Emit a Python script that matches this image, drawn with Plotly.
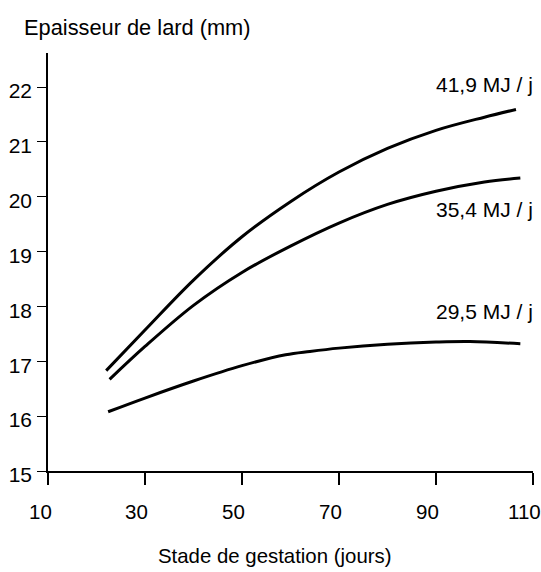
import plotly.graph_objects as go

# Data
days_41_9 = [22, 30, 40, 50, 60, 70, 80, 90, 100, 106.5]
lard_41_9 = [16.83, 17.57, 18.48, 19.27, 19.91, 20.45, 20.88, 21.21, 21.45, 21.59]

days_35_4 = [22.7, 30, 40, 50, 60, 70, 80, 90, 100, 107.4]
lard_35_4 = [16.67, 17.27, 18.02, 18.62, 19.10, 19.52, 19.86, 20.10, 20.27, 20.34]

days_29_5 = [22.4, 30, 40, 50, 59, 64, 70, 80, 90, 97, 107.4]
lard_29_5 = [16.08, 16.33, 16.64, 16.92, 17.12, 17.18, 17.24, 17.31, 17.35, 17.36, 17.32]

series_labels = ["41,9 MJ / j", "35,4 MJ / j", "29,5 MJ / j"]
label_y = [22.04, 19.76, 17.90]

x_ticks = [10, 30, 50, 70, 90, 110]
x_ticktext = ["10", "30", "50", "70", "90", "110"]
y_ticks = [15, 16, 17, 18, 19, 20, 21, 22]

FONT = "Liberation Sans, Arial, sans-serif"
FS = 21

W, H = 541, 572
l, r, t, b = 48, 8, 53, 101
pw, ph = W - l - r, H - t - b

fig = go.Figure()
for xs, ys in [(days_41_9, lard_41_9), (days_35_4, lard_35_4), (days_29_5, lard_29_5)]:
    fig.add_trace(go.Scatter(x=xs, y=ys, mode="lines",
                             line=dict(color="black", width=3, shape="spline", smoothing=1),
                             showlegend=False, hoverinfo="skip", cliponaxis=False))

for lab, ly in zip(series_labels, label_y):
    fig.add_annotation(x=110, y=ly, xref="x", yref="y", text=lab, showarrow=False,
                       xanchor="right", yanchor="middle", xshift=2,
                       font=dict(family=FONT, size=FS, color="black"))

# x tick marks and labels (labels slightly left of their ticks, as in the reference)
for xv, xt in zip(x_ticks, x_ticktext):
    fig.add_shape(type="line", xref="x", yref="paper", x0=xv, x1=xv,
                  y0=0, y1=-12 / ph, line=dict(color="black", width=1.8))
    fig.add_annotation(x=xv, y=0, xref="x", yref="paper", text=xt, showarrow=False,
                       xanchor="center", yanchor="middle", xshift=-8, yshift=-40,
                       font=dict(family=FONT, size=20.5, color="black"))

fig.add_annotation(x=(22 - l) / pw, y=(H - 27 - b) / ph, xref="paper", yref="paper",
                   text="Epaisseur de lard (mm)", showarrow=False,
                   xanchor="left", yanchor="middle",
                   font=dict(family=FONT, size=21.8, color="black"))
fig.add_annotation(x=(274.5 - l) / pw, y=(H - 556 - b) / ph, xref="paper", yref="paper",
                   text="Stade de gestation (jours)", showarrow=False,
                   xanchor="center", yanchor="middle",
                   font=dict(family=FONT, size=20.4, color="black"))

fig.update_layout(
    width=W, height=H,
    margin=dict(l=l, r=r, t=t, b=b, pad=0, autoexpand=False),
    plot_bgcolor="white", paper_bgcolor="white",
    font=dict(family=FONT, size=FS, color="black"),
    xaxis=dict(range=[10, 110.01], tickvals=x_ticks, showticklabels=False,
               showgrid=False, zeroline=False,
               showline=True, linecolor="black", linewidth=1.5, automargin=False,
               ticks="outside", ticklen=12, tickwidth=1.8, tickcolor="black",
               fixedrange=True),
    yaxis=dict(range=[15, 22.62], tickvals=y_ticks, showgrid=False, zeroline=False,
               showline=True, linecolor="black", linewidth=1.5, automargin=False,
               ticks="outside", ticklen=9, tickwidth=1.3, tickcolor="black",
               ticklabelshift=4, ticklabelstandoff=1,
               fixedrange=True),
)

fig.write_html("out.html", config={"displayModeBar": False},
               post_script="document.body.style.margin='0';document.body.style.overflow='hidden';")
